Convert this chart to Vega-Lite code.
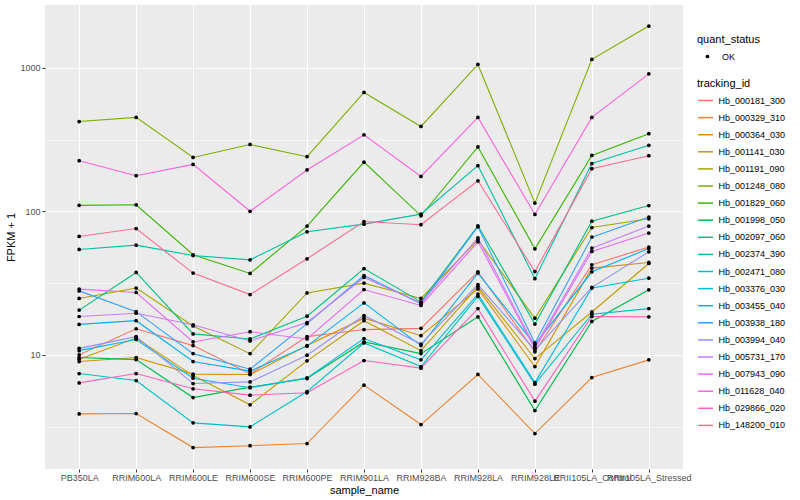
{
  "$schema": "https://vega.github.io/schema/vega-lite/v6.json",
  "width": 638,
  "height": 464,
  "autosize": {"type": "none"},
  "padding": {"left": 45, "top": 5, "right": 117, "bottom": 31},
  "background": "white",
  "config": {
    "view": {"fill": "#EBEBEB", "stroke": null},
    "font": "Liberation Sans",
    "axis": {
      "domain": false,
      "grid": true,
      "gridColor": "white",
      "tickColor": "#333333",
      "tickSize": 3,
      "labelColor": "#4D4D4D",
      "labelFontSize": 9,
      "titleFontSize": 11,
      "titleFontWeight": "normal",
      "titleColor": "black",
      "labelOverlap": false,
      "labelBound": false
    },
    "legend": {
      "orient": "none",
      "titleFontSize": 11,
      "titleFontWeight": "normal",
      "titleColor": "black",
      "labelFontSize": 9,
      "labelColor": "black",
      "padding": 0,
      "titlePadding": 3
    }
  },
  "data": {
    "values": [
      {"tracking_id": "Hb_000181_300", "sample_name": "PB350LA", "fpkm_plus_1": 10.0, "quant_status": "OK"},
      {"tracking_id": "Hb_000181_300", "sample_name": "RRIM600LA", "fpkm_plus_1": 15.2, "quant_status": "OK"},
      {"tracking_id": "Hb_000181_300", "sample_name": "RRIM600LE", "fpkm_plus_1": 11.6, "quant_status": "OK"},
      {"tracking_id": "Hb_000181_300", "sample_name": "RRIM600SE", "fpkm_plus_1": 7.37, "quant_status": "OK"},
      {"tracking_id": "Hb_000181_300", "sample_name": "RRIM600PE", "fpkm_plus_1": 13.4, "quant_status": "OK"},
      {"tracking_id": "Hb_000181_300", "sample_name": "RRIM901LA", "fpkm_plus_1": 15.0, "quant_status": "OK"},
      {"tracking_id": "Hb_000181_300", "sample_name": "RRIM928BA", "fpkm_plus_1": 15.3, "quant_status": "OK"},
      {"tracking_id": "Hb_000181_300", "sample_name": "RRIM928LA", "fpkm_plus_1": 37.9, "quant_status": "OK"},
      {"tracking_id": "Hb_000181_300", "sample_name": "RRIM928LE", "fpkm_plus_1": 10.5, "quant_status": "OK"},
      {"tracking_id": "Hb_000181_300", "sample_name": "RRII105LA_Control", "fpkm_plus_1": 42.4, "quant_status": "OK"},
      {"tracking_id": "Hb_000181_300", "sample_name": "RRII105LA_Stressed", "fpkm_plus_1": 56.3, "quant_status": "OK"},

      {"tracking_id": "Hb_000329_310", "sample_name": "PB350LA", "fpkm_plus_1": 3.88, "quant_status": "OK"},
      {"tracking_id": "Hb_000329_310", "sample_name": "RRIM600LA", "fpkm_plus_1": 3.9, "quant_status": "OK"},
      {"tracking_id": "Hb_000329_310", "sample_name": "RRIM600LE", "fpkm_plus_1": 2.26, "quant_status": "OK"},
      {"tracking_id": "Hb_000329_310", "sample_name": "RRIM600SE", "fpkm_plus_1": 2.33, "quant_status": "OK"},
      {"tracking_id": "Hb_000329_310", "sample_name": "RRIM600PE", "fpkm_plus_1": 2.41, "quant_status": "OK"},
      {"tracking_id": "Hb_000329_310", "sample_name": "RRIM901LA", "fpkm_plus_1": 6.15, "quant_status": "OK"},
      {"tracking_id": "Hb_000329_310", "sample_name": "RRIM928BA", "fpkm_plus_1": 3.27, "quant_status": "OK"},
      {"tracking_id": "Hb_000329_310", "sample_name": "RRIM928LA", "fpkm_plus_1": 7.3, "quant_status": "OK"},
      {"tracking_id": "Hb_000329_310", "sample_name": "RRIM928LE", "fpkm_plus_1": 2.83, "quant_status": "OK"},
      {"tracking_id": "Hb_000329_310", "sample_name": "RRII105LA_Control", "fpkm_plus_1": 6.95, "quant_status": "OK"},
      {"tracking_id": "Hb_000329_310", "sample_name": "RRII105LA_Stressed", "fpkm_plus_1": 9.23, "quant_status": "OK"},

      {"tracking_id": "Hb_000364_030", "sample_name": "PB350LA", "fpkm_plus_1": 8.98, "quant_status": "OK"},
      {"tracking_id": "Hb_000364_030", "sample_name": "RRIM600LA", "fpkm_plus_1": 9.58, "quant_status": "OK"},
      {"tracking_id": "Hb_000364_030", "sample_name": "RRIM600LE", "fpkm_plus_1": 7.34, "quant_status": "OK"},
      {"tracking_id": "Hb_000364_030", "sample_name": "RRIM600SE", "fpkm_plus_1": 7.29, "quant_status": "OK"},
      {"tracking_id": "Hb_000364_030", "sample_name": "RRIM600PE", "fpkm_plus_1": 11.6, "quant_status": "OK"},
      {"tracking_id": "Hb_000364_030", "sample_name": "RRIM901LA", "fpkm_plus_1": 18.0, "quant_status": "OK"},
      {"tracking_id": "Hb_000364_030", "sample_name": "RRIM928BA", "fpkm_plus_1": 13.6, "quant_status": "OK"},
      {"tracking_id": "Hb_000364_030", "sample_name": "RRIM928LA", "fpkm_plus_1": 28.8, "quant_status": "OK"},
      {"tracking_id": "Hb_000364_030", "sample_name": "RRIM928LE", "fpkm_plus_1": 8.29, "quant_status": "OK"},
      {"tracking_id": "Hb_000364_030", "sample_name": "RRII105LA_Control", "fpkm_plus_1": 40.2, "quant_status": "OK"},
      {"tracking_id": "Hb_000364_030", "sample_name": "RRII105LA_Stressed", "fpkm_plus_1": 44.0, "quant_status": "OK"},

      {"tracking_id": "Hb_001141_030", "sample_name": "PB350LA", "fpkm_plus_1": 9.33, "quant_status": "OK"},
      {"tracking_id": "Hb_001141_030", "sample_name": "RRIM600LA", "fpkm_plus_1": 13.1, "quant_status": "OK"},
      {"tracking_id": "Hb_001141_030", "sample_name": "RRIM600LE", "fpkm_plus_1": 7.17, "quant_status": "OK"},
      {"tracking_id": "Hb_001141_030", "sample_name": "RRIM600SE", "fpkm_plus_1": 4.49, "quant_status": "OK"},
      {"tracking_id": "Hb_001141_030", "sample_name": "RRIM600PE", "fpkm_plus_1": 9.08, "quant_status": "OK"},
      {"tracking_id": "Hb_001141_030", "sample_name": "RRIM901LA", "fpkm_plus_1": 17.3, "quant_status": "OK"},
      {"tracking_id": "Hb_001141_030", "sample_name": "RRIM928BA", "fpkm_plus_1": 10.7, "quant_status": "OK"},
      {"tracking_id": "Hb_001141_030", "sample_name": "RRIM928LA", "fpkm_plus_1": 29.9, "quant_status": "OK"},
      {"tracking_id": "Hb_001141_030", "sample_name": "RRIM928LE", "fpkm_plus_1": 9.42, "quant_status": "OK"},
      {"tracking_id": "Hb_001141_030", "sample_name": "RRII105LA_Control", "fpkm_plus_1": 19.9, "quant_status": "OK"},
      {"tracking_id": "Hb_001141_030", "sample_name": "RRII105LA_Stressed", "fpkm_plus_1": 43.3, "quant_status": "OK"},

      {"tracking_id": "Hb_001191_090", "sample_name": "PB350LA", "fpkm_plus_1": 24.7, "quant_status": "OK"},
      {"tracking_id": "Hb_001191_090", "sample_name": "RRIM600LA", "fpkm_plus_1": 29.2, "quant_status": "OK"},
      {"tracking_id": "Hb_001191_090", "sample_name": "RRIM600LE", "fpkm_plus_1": 15.9, "quant_status": "OK"},
      {"tracking_id": "Hb_001191_090", "sample_name": "RRIM600SE", "fpkm_plus_1": 10.2, "quant_status": "OK"},
      {"tracking_id": "Hb_001191_090", "sample_name": "RRIM600PE", "fpkm_plus_1": 27.0, "quant_status": "OK"},
      {"tracking_id": "Hb_001191_090", "sample_name": "RRIM901LA", "fpkm_plus_1": 31.6, "quant_status": "OK"},
      {"tracking_id": "Hb_001191_090", "sample_name": "RRIM928BA", "fpkm_plus_1": 24.7, "quant_status": "OK"},
      {"tracking_id": "Hb_001191_090", "sample_name": "RRIM928LA", "fpkm_plus_1": 63.3, "quant_status": "OK"},
      {"tracking_id": "Hb_001191_090", "sample_name": "RRIM928LE", "fpkm_plus_1": 18.0, "quant_status": "OK"},
      {"tracking_id": "Hb_001191_090", "sample_name": "RRII105LA_Control", "fpkm_plus_1": 77.1, "quant_status": "OK"},
      {"tracking_id": "Hb_001191_090", "sample_name": "RRII105LA_Stressed", "fpkm_plus_1": 88.7, "quant_status": "OK"},

      {"tracking_id": "Hb_001248_080", "sample_name": "PB350LA", "fpkm_plus_1": 422, "quant_status": "OK"},
      {"tracking_id": "Hb_001248_080", "sample_name": "RRIM600LA", "fpkm_plus_1": 451, "quant_status": "OK"},
      {"tracking_id": "Hb_001248_080", "sample_name": "RRIM600LE", "fpkm_plus_1": 237, "quant_status": "OK"},
      {"tracking_id": "Hb_001248_080", "sample_name": "RRIM600SE", "fpkm_plus_1": 292, "quant_status": "OK"},
      {"tracking_id": "Hb_001248_080", "sample_name": "RRIM600PE", "fpkm_plus_1": 240, "quant_status": "OK"},
      {"tracking_id": "Hb_001248_080", "sample_name": "RRIM901LA", "fpkm_plus_1": 673, "quant_status": "OK"},
      {"tracking_id": "Hb_001248_080", "sample_name": "RRIM928BA", "fpkm_plus_1": 390, "quant_status": "OK"},
      {"tracking_id": "Hb_001248_080", "sample_name": "RRIM928LA", "fpkm_plus_1": 1054, "quant_status": "OK"},
      {"tracking_id": "Hb_001248_080", "sample_name": "RRIM928LE", "fpkm_plus_1": 114, "quant_status": "OK"},
      {"tracking_id": "Hb_001248_080", "sample_name": "RRII105LA_Control", "fpkm_plus_1": 1143, "quant_status": "OK"},
      {"tracking_id": "Hb_001248_080", "sample_name": "RRII105LA_Stressed", "fpkm_plus_1": 1950, "quant_status": "OK"},

      {"tracking_id": "Hb_001829_060", "sample_name": "PB350LA", "fpkm_plus_1": 110, "quant_status": "OK"},
      {"tracking_id": "Hb_001829_060", "sample_name": "RRIM600LA", "fpkm_plus_1": 111, "quant_status": "OK"},
      {"tracking_id": "Hb_001829_060", "sample_name": "RRIM600LE", "fpkm_plus_1": 49.8, "quant_status": "OK"},
      {"tracking_id": "Hb_001829_060", "sample_name": "RRIM600SE", "fpkm_plus_1": 36.9, "quant_status": "OK"},
      {"tracking_id": "Hb_001829_060", "sample_name": "RRIM600PE", "fpkm_plus_1": 78.9, "quant_status": "OK"},
      {"tracking_id": "Hb_001829_060", "sample_name": "RRIM901LA", "fpkm_plus_1": 220, "quant_status": "OK"},
      {"tracking_id": "Hb_001829_060", "sample_name": "RRIM928BA", "fpkm_plus_1": 93, "quant_status": "OK"},
      {"tracking_id": "Hb_001829_060", "sample_name": "RRIM928LA", "fpkm_plus_1": 281, "quant_status": "OK"},
      {"tracking_id": "Hb_001829_060", "sample_name": "RRIM928LE", "fpkm_plus_1": 54.8, "quant_status": "OK"},
      {"tracking_id": "Hb_001829_060", "sample_name": "RRII105LA_Control", "fpkm_plus_1": 245, "quant_status": "OK"},
      {"tracking_id": "Hb_001829_060", "sample_name": "RRII105LA_Stressed", "fpkm_plus_1": 347, "quant_status": "OK"},

      {"tracking_id": "Hb_001998_050", "sample_name": "PB350LA", "fpkm_plus_1": 9.58, "quant_status": "OK"},
      {"tracking_id": "Hb_001998_050", "sample_name": "RRIM600LA", "fpkm_plus_1": 9.27, "quant_status": "OK"},
      {"tracking_id": "Hb_001998_050", "sample_name": "RRIM600LE", "fpkm_plus_1": 5.04, "quant_status": "OK"},
      {"tracking_id": "Hb_001998_050", "sample_name": "RRIM600SE", "fpkm_plus_1": 5.96, "quant_status": "OK"},
      {"tracking_id": "Hb_001998_050", "sample_name": "RRIM600PE", "fpkm_plus_1": 6.84, "quant_status": "OK"},
      {"tracking_id": "Hb_001998_050", "sample_name": "RRIM901LA", "fpkm_plus_1": 12.3, "quant_status": "OK"},
      {"tracking_id": "Hb_001998_050", "sample_name": "RRIM928BA", "fpkm_plus_1": 10.2, "quant_status": "OK"},
      {"tracking_id": "Hb_001998_050", "sample_name": "RRIM928LA", "fpkm_plus_1": 18.4, "quant_status": "OK"},
      {"tracking_id": "Hb_001998_050", "sample_name": "RRIM928LE", "fpkm_plus_1": 4.09, "quant_status": "OK"},
      {"tracking_id": "Hb_001998_050", "sample_name": "RRII105LA_Control", "fpkm_plus_1": 17.1, "quant_status": "OK"},
      {"tracking_id": "Hb_001998_050", "sample_name": "RRII105LA_Stressed", "fpkm_plus_1": 28.4, "quant_status": "OK"},

      {"tracking_id": "Hb_002097_060", "sample_name": "PB350LA", "fpkm_plus_1": 20.5, "quant_status": "OK"},
      {"tracking_id": "Hb_002097_060", "sample_name": "RRIM600LA", "fpkm_plus_1": 37.5, "quant_status": "OK"},
      {"tracking_id": "Hb_002097_060", "sample_name": "RRIM600LE", "fpkm_plus_1": 14.0, "quant_status": "OK"},
      {"tracking_id": "Hb_002097_060", "sample_name": "RRIM600SE", "fpkm_plus_1": 12.9, "quant_status": "OK"},
      {"tracking_id": "Hb_002097_060", "sample_name": "RRIM600PE", "fpkm_plus_1": 18.6, "quant_status": "OK"},
      {"tracking_id": "Hb_002097_060", "sample_name": "RRIM901LA", "fpkm_plus_1": 39.9, "quant_status": "OK"},
      {"tracking_id": "Hb_002097_060", "sample_name": "RRIM928BA", "fpkm_plus_1": 23.4, "quant_status": "OK"},
      {"tracking_id": "Hb_002097_060", "sample_name": "RRIM928LA", "fpkm_plus_1": 79.2, "quant_status": "OK"},
      {"tracking_id": "Hb_002097_060", "sample_name": "RRIM928LE", "fpkm_plus_1": 16.4, "quant_status": "OK"},
      {"tracking_id": "Hb_002097_060", "sample_name": "RRII105LA_Control", "fpkm_plus_1": 85.4, "quant_status": "OK"},
      {"tracking_id": "Hb_002097_060", "sample_name": "RRII105LA_Stressed", "fpkm_plus_1": 109.7, "quant_status": "OK"},

      {"tracking_id": "Hb_002374_390", "sample_name": "PB350LA", "fpkm_plus_1": 54.2, "quant_status": "OK"},
      {"tracking_id": "Hb_002374_390", "sample_name": "RRIM600LA", "fpkm_plus_1": 58.1, "quant_status": "OK"},
      {"tracking_id": "Hb_002374_390", "sample_name": "RRIM600LE", "fpkm_plus_1": 49.2, "quant_status": "OK"},
      {"tracking_id": "Hb_002374_390", "sample_name": "RRIM600SE", "fpkm_plus_1": 45.9, "quant_status": "OK"},
      {"tracking_id": "Hb_002374_390", "sample_name": "RRIM600PE", "fpkm_plus_1": 72, "quant_status": "OK"},
      {"tracking_id": "Hb_002374_390", "sample_name": "RRIM901LA", "fpkm_plus_1": 81.4, "quant_status": "OK"},
      {"tracking_id": "Hb_002374_390", "sample_name": "RRIM928BA", "fpkm_plus_1": 95.5, "quant_status": "OK"},
      {"tracking_id": "Hb_002374_390", "sample_name": "RRIM928LA", "fpkm_plus_1": 208, "quant_status": "OK"},
      {"tracking_id": "Hb_002374_390", "sample_name": "RRIM928LE", "fpkm_plus_1": 33.9, "quant_status": "OK"},
      {"tracking_id": "Hb_002374_390", "sample_name": "RRII105LA_Control", "fpkm_plus_1": 215, "quant_status": "OK"},
      {"tracking_id": "Hb_002374_390", "sample_name": "RRII105LA_Stressed", "fpkm_plus_1": 288, "quant_status": "OK"},

      {"tracking_id": "Hb_002471_080", "sample_name": "PB350LA", "fpkm_plus_1": 7.41, "quant_status": "OK"},
      {"tracking_id": "Hb_002471_080", "sample_name": "RRIM600LA", "fpkm_plus_1": 6.62, "quant_status": "OK"},
      {"tracking_id": "Hb_002471_080", "sample_name": "RRIM600LE", "fpkm_plus_1": 3.36, "quant_status": "OK"},
      {"tracking_id": "Hb_002471_080", "sample_name": "RRIM600SE", "fpkm_plus_1": 3.15, "quant_status": "OK"},
      {"tracking_id": "Hb_002471_080", "sample_name": "RRIM600PE", "fpkm_plus_1": 5.55, "quant_status": "OK"},
      {"tracking_id": "Hb_002471_080", "sample_name": "RRIM901LA", "fpkm_plus_1": 12.1, "quant_status": "OK"},
      {"tracking_id": "Hb_002471_080", "sample_name": "RRIM928BA", "fpkm_plus_1": 8.29, "quant_status": "OK"},
      {"tracking_id": "Hb_002471_080", "sample_name": "RRIM928LA", "fpkm_plus_1": 25.5, "quant_status": "OK"},
      {"tracking_id": "Hb_002471_080", "sample_name": "RRIM928LE", "fpkm_plus_1": 6.25, "quant_status": "OK"},
      {"tracking_id": "Hb_002471_080", "sample_name": "RRII105LA_Control", "fpkm_plus_1": 19.2, "quant_status": "OK"},
      {"tracking_id": "Hb_002471_080", "sample_name": "RRII105LA_Stressed", "fpkm_plus_1": 21.0, "quant_status": "OK"},

      {"tracking_id": "Hb_003376_030", "sample_name": "PB350LA", "fpkm_plus_1": 10.7, "quant_status": "OK"},
      {"tracking_id": "Hb_003376_030", "sample_name": "RRIM600LA", "fpkm_plus_1": 12.8, "quant_status": "OK"},
      {"tracking_id": "Hb_003376_030", "sample_name": "RRIM600LE", "fpkm_plus_1": 6.88, "quant_status": "OK"},
      {"tracking_id": "Hb_003376_030", "sample_name": "RRIM600SE", "fpkm_plus_1": 5.9, "quant_status": "OK"},
      {"tracking_id": "Hb_003376_030", "sample_name": "RRIM600PE", "fpkm_plus_1": 6.91, "quant_status": "OK"},
      {"tracking_id": "Hb_003376_030", "sample_name": "RRIM901LA", "fpkm_plus_1": 13.0, "quant_status": "OK"},
      {"tracking_id": "Hb_003376_030", "sample_name": "RRIM928BA", "fpkm_plus_1": 9.23, "quant_status": "OK"},
      {"tracking_id": "Hb_003376_030", "sample_name": "RRIM928LA", "fpkm_plus_1": 26.5, "quant_status": "OK"},
      {"tracking_id": "Hb_003376_030", "sample_name": "RRIM928LE", "fpkm_plus_1": 6.41, "quant_status": "OK"},
      {"tracking_id": "Hb_003376_030", "sample_name": "RRII105LA_Control", "fpkm_plus_1": 29.2, "quant_status": "OK"},
      {"tracking_id": "Hb_003376_030", "sample_name": "RRII105LA_Stressed", "fpkm_plus_1": 34.2, "quant_status": "OK"},

      {"tracking_id": "Hb_003455_040", "sample_name": "PB350LA", "fpkm_plus_1": 16.3, "quant_status": "OK"},
      {"tracking_id": "Hb_003455_040", "sample_name": "RRIM600LA", "fpkm_plus_1": 17.3, "quant_status": "OK"},
      {"tracking_id": "Hb_003455_040", "sample_name": "RRIM600LE", "fpkm_plus_1": 8.98, "quant_status": "OK"},
      {"tracking_id": "Hb_003455_040", "sample_name": "RRIM600SE", "fpkm_plus_1": 7.7, "quant_status": "OK"},
      {"tracking_id": "Hb_003455_040", "sample_name": "RRIM600PE", "fpkm_plus_1": 11.5, "quant_status": "OK"},
      {"tracking_id": "Hb_003455_040", "sample_name": "RRIM901LA", "fpkm_plus_1": 23.0, "quant_status": "OK"},
      {"tracking_id": "Hb_003455_040", "sample_name": "RRIM928BA", "fpkm_plus_1": 11.6, "quant_status": "OK"},
      {"tracking_id": "Hb_003455_040", "sample_name": "RRIM928LA", "fpkm_plus_1": 37.1, "quant_status": "OK"},
      {"tracking_id": "Hb_003455_040", "sample_name": "RRIM928LE", "fpkm_plus_1": 11.8, "quant_status": "OK"},
      {"tracking_id": "Hb_003455_040", "sample_name": "RRII105LA_Control", "fpkm_plus_1": 37.9, "quant_status": "OK"},
      {"tracking_id": "Hb_003455_040", "sample_name": "RRII105LA_Stressed", "fpkm_plus_1": 55.0, "quant_status": "OK"},

      {"tracking_id": "Hb_003938_180", "sample_name": "PB350LA", "fpkm_plus_1": 27.9, "quant_status": "OK"},
      {"tracking_id": "Hb_003938_180", "sample_name": "RRIM600LA", "fpkm_plus_1": 20.0, "quant_status": "OK"},
      {"tracking_id": "Hb_003938_180", "sample_name": "RRIM600LE", "fpkm_plus_1": 10.2, "quant_status": "OK"},
      {"tracking_id": "Hb_003938_180", "sample_name": "RRIM600SE", "fpkm_plus_1": 7.95, "quant_status": "OK"},
      {"tracking_id": "Hb_003938_180", "sample_name": "RRIM600PE", "fpkm_plus_1": 16.5, "quant_status": "OK"},
      {"tracking_id": "Hb_003938_180", "sample_name": "RRIM901LA", "fpkm_plus_1": 35.7, "quant_status": "OK"},
      {"tracking_id": "Hb_003938_180", "sample_name": "RRIM928BA", "fpkm_plus_1": 22.7, "quant_status": "OK"},
      {"tracking_id": "Hb_003938_180", "sample_name": "RRIM928LA", "fpkm_plus_1": 78.0, "quant_status": "OK"},
      {"tracking_id": "Hb_003938_180", "sample_name": "RRIM928LE", "fpkm_plus_1": 12.1, "quant_status": "OK"},
      {"tracking_id": "Hb_003938_180", "sample_name": "RRII105LA_Control", "fpkm_plus_1": 66.1, "quant_status": "OK"},
      {"tracking_id": "Hb_003938_180", "sample_name": "RRII105LA_Stressed", "fpkm_plus_1": 91.1, "quant_status": "OK"},

      {"tracking_id": "Hb_003994_040", "sample_name": "PB350LA", "fpkm_plus_1": 11.1, "quant_status": "OK"},
      {"tracking_id": "Hb_003994_040", "sample_name": "RRIM600LA", "fpkm_plus_1": 13.4, "quant_status": "OK"},
      {"tracking_id": "Hb_003994_040", "sample_name": "RRIM600LE", "fpkm_plus_1": 6.31, "quant_status": "OK"},
      {"tracking_id": "Hb_003994_040", "sample_name": "RRIM600SE", "fpkm_plus_1": 6.48, "quant_status": "OK"},
      {"tracking_id": "Hb_003994_040", "sample_name": "RRIM600PE", "fpkm_plus_1": 9.95, "quant_status": "OK"},
      {"tracking_id": "Hb_003994_040", "sample_name": "RRIM901LA", "fpkm_plus_1": 18.8, "quant_status": "OK"},
      {"tracking_id": "Hb_003994_040", "sample_name": "RRIM928BA", "fpkm_plus_1": 11.9, "quant_status": "OK"},
      {"tracking_id": "Hb_003994_040", "sample_name": "RRIM928LA", "fpkm_plus_1": 30.9, "quant_status": "OK"},
      {"tracking_id": "Hb_003994_040", "sample_name": "RRIM928LE", "fpkm_plus_1": 10.8, "quant_status": "OK"},
      {"tracking_id": "Hb_003994_040", "sample_name": "RRII105LA_Control", "fpkm_plus_1": 29.5, "quant_status": "OK"},
      {"tracking_id": "Hb_003994_040", "sample_name": "RRII105LA_Stressed", "fpkm_plus_1": 52.2, "quant_status": "OK"},

      {"tracking_id": "Hb_005731_170", "sample_name": "PB350LA", "fpkm_plus_1": 18.5, "quant_status": "OK"},
      {"tracking_id": "Hb_005731_170", "sample_name": "RRIM600LA", "fpkm_plus_1": 19.5, "quant_status": "OK"},
      {"tracking_id": "Hb_005731_170", "sample_name": "RRIM600LE", "fpkm_plus_1": 16.2, "quant_status": "OK"},
      {"tracking_id": "Hb_005731_170", "sample_name": "RRIM600SE", "fpkm_plus_1": 12.5, "quant_status": "OK"},
      {"tracking_id": "Hb_005731_170", "sample_name": "RRIM600PE", "fpkm_plus_1": 16.8, "quant_status": "OK"},
      {"tracking_id": "Hb_005731_170", "sample_name": "RRIM901LA", "fpkm_plus_1": 34.6, "quant_status": "OK"},
      {"tracking_id": "Hb_005731_170", "sample_name": "RRIM928BA", "fpkm_plus_1": 23.0, "quant_status": "OK"},
      {"tracking_id": "Hb_005731_170", "sample_name": "RRIM928LA", "fpkm_plus_1": 65.3, "quant_status": "OK"},
      {"tracking_id": "Hb_005731_170", "sample_name": "RRIM928LE", "fpkm_plus_1": 11.4, "quant_status": "OK"},
      {"tracking_id": "Hb_005731_170", "sample_name": "RRII105LA_Control", "fpkm_plus_1": 55.4, "quant_status": "OK"},
      {"tracking_id": "Hb_005731_170", "sample_name": "RRII105LA_Stressed", "fpkm_plus_1": 78.9, "quant_status": "OK"},

      {"tracking_id": "Hb_007943_090", "sample_name": "PB350LA", "fpkm_plus_1": 28.7, "quant_status": "OK"},
      {"tracking_id": "Hb_007943_090", "sample_name": "RRIM600LA", "fpkm_plus_1": 27.2, "quant_status": "OK"},
      {"tracking_id": "Hb_007943_090", "sample_name": "RRIM600LE", "fpkm_plus_1": 12.3, "quant_status": "OK"},
      {"tracking_id": "Hb_007943_090", "sample_name": "RRIM600SE", "fpkm_plus_1": 14.5, "quant_status": "OK"},
      {"tracking_id": "Hb_007943_090", "sample_name": "RRIM600PE", "fpkm_plus_1": 12.9, "quant_status": "OK"},
      {"tracking_id": "Hb_007943_090", "sample_name": "RRIM901LA", "fpkm_plus_1": 28.5, "quant_status": "OK"},
      {"tracking_id": "Hb_007943_090", "sample_name": "RRIM928BA", "fpkm_plus_1": 22.1, "quant_status": "OK"},
      {"tracking_id": "Hb_007943_090", "sample_name": "RRIM928LA", "fpkm_plus_1": 61.3, "quant_status": "OK"},
      {"tracking_id": "Hb_007943_090", "sample_name": "RRIM928LE", "fpkm_plus_1": 11.1, "quant_status": "OK"},
      {"tracking_id": "Hb_007943_090", "sample_name": "RRII105LA_Control", "fpkm_plus_1": 52.5, "quant_status": "OK"},
      {"tracking_id": "Hb_007943_090", "sample_name": "RRII105LA_Stressed", "fpkm_plus_1": 70.5, "quant_status": "OK"},

      {"tracking_id": "Hb_011628_040", "sample_name": "PB350LA", "fpkm_plus_1": 225, "quant_status": "OK"},
      {"tracking_id": "Hb_011628_040", "sample_name": "RRIM600LA", "fpkm_plus_1": 177, "quant_status": "OK"},
      {"tracking_id": "Hb_011628_040", "sample_name": "RRIM600LE", "fpkm_plus_1": 212, "quant_status": "OK"},
      {"tracking_id": "Hb_011628_040", "sample_name": "RRIM600SE", "fpkm_plus_1": 100, "quant_status": "OK"},
      {"tracking_id": "Hb_011628_040", "sample_name": "RRIM600PE", "fpkm_plus_1": 194, "quant_status": "OK"},
      {"tracking_id": "Hb_011628_040", "sample_name": "RRIM901LA", "fpkm_plus_1": 341, "quant_status": "OK"},
      {"tracking_id": "Hb_011628_040", "sample_name": "RRIM928BA", "fpkm_plus_1": 175, "quant_status": "OK"},
      {"tracking_id": "Hb_011628_040", "sample_name": "RRIM928LA", "fpkm_plus_1": 451, "quant_status": "OK"},
      {"tracking_id": "Hb_011628_040", "sample_name": "RRIM928LE", "fpkm_plus_1": 95, "quant_status": "OK"},
      {"tracking_id": "Hb_011628_040", "sample_name": "RRII105LA_Control", "fpkm_plus_1": 451, "quant_status": "OK"},
      {"tracking_id": "Hb_011628_040", "sample_name": "RRII105LA_Stressed", "fpkm_plus_1": 907, "quant_status": "OK"},

      {"tracking_id": "Hb_029866_020", "sample_name": "PB350LA", "fpkm_plus_1": 6.38, "quant_status": "OK"},
      {"tracking_id": "Hb_029866_020", "sample_name": "RRIM600LA", "fpkm_plus_1": 7.41, "quant_status": "OK"},
      {"tracking_id": "Hb_029866_020", "sample_name": "RRIM600LE", "fpkm_plus_1": 5.8, "quant_status": "OK"},
      {"tracking_id": "Hb_029866_020", "sample_name": "RRIM600SE", "fpkm_plus_1": 5.24, "quant_status": "OK"},
      {"tracking_id": "Hb_029866_020", "sample_name": "RRIM600PE", "fpkm_plus_1": 5.44, "quant_status": "OK"},
      {"tracking_id": "Hb_029866_020", "sample_name": "RRIM901LA", "fpkm_plus_1": 9.13, "quant_status": "OK"},
      {"tracking_id": "Hb_029866_020", "sample_name": "RRIM928BA", "fpkm_plus_1": 8.08, "quant_status": "OK"},
      {"tracking_id": "Hb_029866_020", "sample_name": "RRIM928LA", "fpkm_plus_1": 21.0, "quant_status": "OK"},
      {"tracking_id": "Hb_029866_020", "sample_name": "RRIM928LE", "fpkm_plus_1": 4.76, "quant_status": "OK"},
      {"tracking_id": "Hb_029866_020", "sample_name": "RRII105LA_Control", "fpkm_plus_1": 18.5, "quant_status": "OK"},
      {"tracking_id": "Hb_029866_020", "sample_name": "RRII105LA_Stressed", "fpkm_plus_1": 18.4, "quant_status": "OK"},

      {"tracking_id": "Hb_148200_010", "sample_name": "PB350LA", "fpkm_plus_1": 66.8, "quant_status": "OK"},
      {"tracking_id": "Hb_148200_010", "sample_name": "RRIM600LA", "fpkm_plus_1": 75.8, "quant_status": "OK"},
      {"tracking_id": "Hb_148200_010", "sample_name": "RRIM600LE", "fpkm_plus_1": 37.1, "quant_status": "OK"},
      {"tracking_id": "Hb_148200_010", "sample_name": "RRIM600SE", "fpkm_plus_1": 26.3, "quant_status": "OK"},
      {"tracking_id": "Hb_148200_010", "sample_name": "RRIM600PE", "fpkm_plus_1": 46.7, "quant_status": "OK"},
      {"tracking_id": "Hb_148200_010", "sample_name": "RRIM901LA", "fpkm_plus_1": 84.9, "quant_status": "OK"},
      {"tracking_id": "Hb_148200_010", "sample_name": "RRIM928BA", "fpkm_plus_1": 80.6, "quant_status": "OK"},
      {"tracking_id": "Hb_148200_010", "sample_name": "RRIM928LA", "fpkm_plus_1": 163, "quant_status": "OK"},
      {"tracking_id": "Hb_148200_010", "sample_name": "RRIM928LE", "fpkm_plus_1": 38.0, "quant_status": "OK"},
      {"tracking_id": "Hb_148200_010", "sample_name": "RRII105LA_Control", "fpkm_plus_1": 198, "quant_status": "OK"},
      {"tracking_id": "Hb_148200_010", "sample_name": "RRII105LA_Stressed", "fpkm_plus_1": 244, "quant_status": "OK"}
    ]
  },
  "encoding": {
    "x": {
      "field": "sample_name",
      "type": "nominal",
      "sort": ["PB350LA", "RRIM600LA", "RRIM600LE", "RRIM600SE", "RRIM600PE", "RRIM901LA", "RRIM928BA", "RRIM928LA", "RRIM928LE", "RRII105LA_Control", "RRII105LA_Stressed"],
      "scale": {"type": "point", "padding": 0.6},
      "axis": {
        "title": "sample_name",
        "labelAngle": 0,
        "labelPadding": 1,
        "titlePadding": 2,
        "gridWidth": 1.1
      }
    },
    "y": {
      "field": "fpkm_plus_1",
      "type": "quantitative",
      "scale": {"type": "log", "domain": [1.603, 2735], "nice": false, "zero": false},
      "axis": {
        "title": "FPKM + 1",
        "values": [3.1623, 10, 31.623, 100, 316.23, 1000],
        "labelExpr": "datum.value == 1000 ? '1000' : datum.value == 100 ? '100' : datum.value == 10 ? '10' : ''",
        "gridWidth": {"condition": {"test": "datum.value == 10 || datum.value == 100 || datum.value == 1000", "value": 1.1}, "value": 0.55},
        "tickOpacity": {"condition": {"test": "datum.value == 10 || datum.value == 100 || datum.value == 1000", "value": 1}, "value": 0},
        "labelPadding": 2,
        "titlePadding": 3
      }
    }
  },
  "layer": [
    {
      "mark": {"type": "line", "strokeWidth": 1.1},
      "encoding": {
        "color": {
          "field": "tracking_id",
          "type": "nominal",
          "scale": {
            "domain": ["Hb_000181_300", "Hb_000329_310", "Hb_000364_030", "Hb_001141_030", "Hb_001191_090", "Hb_001248_080", "Hb_001829_060", "Hb_001998_050", "Hb_002097_060", "Hb_002374_390", "Hb_002471_080", "Hb_003376_030", "Hb_003455_040", "Hb_003938_180", "Hb_003994_040", "Hb_005731_170", "Hb_007943_090", "Hb_011628_040", "Hb_029866_020", "Hb_148200_010"],
            "range": ["#F8766D", "#EA8331", "#D89000", "#C09B00", "#A3A500", "#7CAE00", "#39B600", "#00BB4E", "#00BF7D", "#00C1A3", "#00BFC4", "#00BAE0", "#00B0F6", "#35A2FF", "#9590FF", "#C77CFF", "#E76BF3", "#FA62DB", "#FF62BC", "#FF6C90"]
          },
          "legend": {
            "title": "tracking_id",
            "legendX": 652,
            "legendY": 73,
            "symbolType": "stroke",
            "symbolSize": 225,
            "symbolStrokeWidth": 1.5,
            "rowPadding": 3.1,
            "labelOffset": 4.5,
            "titlePadding": 3
          }
        }
      }
    },
    {
      "mark": {"type": "point", "filled": true, "size": 14, "color": "black", "opacity": 1},
      "encoding": {
        "shape": {
          "field": "quant_status",
          "type": "nominal",
          "scale": {"range": ["circle"]},
          "legend": {
            "title": "quant_status",
            "legendX": 652,
            "legendY": 29,
            "symbolSize": 14,
            "symbolFillColor": "black",
            "symbolStrokeColor": "black",
            "symbolOffset": 6,
            "labelOffset": 10,
            "titlePadding": 7
          }
        }
      }
    }
  ]
}
